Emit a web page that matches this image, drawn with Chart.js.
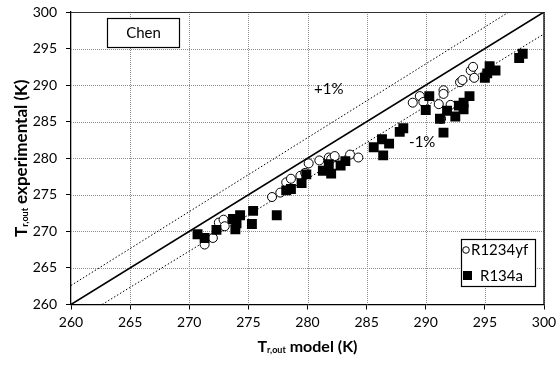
<!DOCTYPE html>
<html>
<head>
<meta charset="utf-8">
<script src="https://cdn.jsdelivr.net/npm/chart.js@4/dist/chart.umd.min.js"></script>
<style>
  html, body { margin: 0; padding: 0; background: #fff; overflow: hidden; }
  #wrap { width: 557px; height: 367px; position: relative; }
  canvas { display: block; }
</style>
</head>
<body>
<div id="wrap"><canvas id="c"></canvas></div>
<script>
// Axis range and tick spacing (K)
const axisMin = 260;
const axisMax = 300;
const tickStep = 5;

// R1234yf: model vs experimental outlet temperature (K)
const r1234yfModel = [271.3, 272.0, 272.5, 272.9, 273.0, 273.9, 277.0, 277.7, 278.2, 278.6, 279.4, 279.8, 280.1, 281.0, 281.8, 282.0, 282.3, 283.6, 284.3, 288.9, 289.5, 289.8, 291.1, 291.5, 291.5, 292.1, 291.3, 292.9, 293.1, 293.8, 294.0, 294.1];
const r1234yfExp   = [268.2, 269.1, 271.2, 271.6, 270.7, 271.5, 274.7, 275.3, 276.7, 277.2, 277.6, 278.0, 279.3, 279.7, 280.1, 279.9, 280.3, 280.5, 280.1, 287.6, 288.5, 287.7, 287.4, 289.3, 288.8, 287.3, 285.4, 290.4, 290.7, 292.0, 292.5, 291.0];

// R134a: model vs experimental outlet temperature (K)
const r134aModel = [270.7, 271.3, 272.3, 273.7, 273.9, 274.3, 274.0, 275.4, 275.3, 277.4, 278.2, 278.6, 279.5, 279.9, 281.3, 281.8, 282.0, 282.8, 283.2, 285.6, 286.3, 286.4, 286.9, 287.8, 288.1, 290.3, 290.0, 291.2, 291.5, 291.8, 292.5, 292.8, 293.2, 293.2, 293.7, 295.0, 295.4, 295.2, 295.9, 297.9, 298.2];
const r134aExp   = [269.6, 269.1, 270.2, 271.7, 270.3, 272.2, 271.1, 272.8, 271.0, 272.2, 275.6, 275.8, 276.6, 277.8, 278.3, 279.2, 277.9, 279.0, 279.6, 281.5, 282.6, 280.4, 282.0, 283.6, 284.1, 288.5, 286.6, 285.4, 283.5, 286.5, 285.7, 287.2, 287.6, 286.7, 288.5, 291.0, 292.6, 291.6, 292.0, 293.7, 294.3];

// Reference lines: perfect agreement and +/-1 % bands (endpoints)
const idealX = [260, 300];
const idealY = [260, 300];
const plusX  = [260, 297.03];
const plusY  = [262.6, 300];
const minusX = [262.63, 300];
const minusY = [260, 297];

// Text annotations and their anchor values
const seriesNames = ['R1234yf', 'R134a'];
const plusLabel = '+1%';
const plusLabelAt = [281.8, 289.4];
const minusLabel = '-1%';
const minusLabelAt = [289.7, 282.2];
const modelName = 'Chen';

const zip = (xs, ys) => xs.map((x, i) => ({ x: x, y: ys[i] }));

const FONT = 'Lato, "Open Sans", sans-serif';

// Draws a line of text with a subscript part, centred on (cx, cy)
function drawRich(ctx, parts, cx, cy) {
  let w = 0;
  parts.forEach(p => { ctx.font = p.font; w += ctx.measureText(p.text).width; });
  let x = cx - w / 2;
  parts.forEach(p => {
    ctx.font = p.font;
    ctx.fillText(p.text, x, cy + (p.dy || 0));
    x += ctx.measureText(p.text).width;
  });
}

const decorations = {
  id: 'decorations',
  beforeDatasetsDraw(chart) {
    // dotted grid inside the plot area
    const { ctx, chartArea: a, scales: { x, y } } = chart;
    ctx.save();
    ctx.strokeStyle = '#8c8c8c';
    ctx.lineWidth = 1;
    ctx.setLineDash([1, 1]);
    x.ticks.forEach(t => {
      const px = Math.round(x.getPixelForValue(t.value)) + 0.5;
      if (t.value === axisMin) return;
      ctx.beginPath(); ctx.moveTo(px, a.top); ctx.lineTo(px, a.bottom); ctx.stroke();
    });
    y.ticks.forEach(t => {
      const py = Math.round(y.getPixelForValue(t.value)) + 0.5;
      if (t.value === axisMin) return;
      ctx.beginPath(); ctx.moveTo(a.left, py); ctx.lineTo(a.right, py); ctx.stroke();
    });
    ctx.restore();
  },
  afterDatasetsDraw(chart) {
    const { ctx, chartArea: a, scales: { x, y } } = chart;
    ctx.save();
    // plot frame on top and right
    ctx.strokeStyle = '#333';
    ctx.lineWidth = 1;
    ctx.beginPath();
    ctx.moveTo(a.left, Math.round(a.top) + 0.5);
    ctx.lineTo(a.right, Math.round(a.top) + 0.5);
    ctx.stroke();
    ctx.strokeStyle = '#000';
    ctx.lineWidth = 1.3;
    ctx.beginPath();
    ctx.moveTo(a.right, a.top);
    ctx.lineTo(a.right, a.bottom);
    ctx.stroke();

    // band labels
    ctx.fillStyle = '#000';
    ctx.textAlign = 'center';
    ctx.textBaseline = 'middle';
    ctx.font = '15px ' + FONT;
    ctx.fillText(plusLabel, x.getPixelForValue(plusLabelAt[0]), y.getPixelForValue(plusLabelAt[1]));
    ctx.fillText(minusLabel, x.getPixelForValue(minusLabelAt[0]), y.getPixelForValue(minusLabelAt[1]));

    // model name box
    const bx = Math.round(a.left) + 36, by = Math.round(a.top) + 6, bw = 72, bh = 29;
    ctx.fillStyle = '#fff';
    ctx.fillRect(bx, by, bw, bh);
    ctx.strokeStyle = '#000';
    ctx.lineWidth = 1.2;
    ctx.strokeRect(bx + 0.5, by + 0.5, bw, bh);
    ctx.fillStyle = '#000';
    ctx.font = '15px ' + FONT;
    ctx.fillText(modelName, bx + bw / 2 + 0.5, by + bh / 2 + 1);

    // legend box
    const lx = Math.round(a.right) - 83, ly = Math.round(a.bottom) - 66, lw = 74, lh = 47;
    ctx.fillStyle = '#fff';
    ctx.fillRect(lx, ly, lw, lh);
    ctx.lineWidth = 1.2;
    ctx.strokeRect(lx + 0.5, ly + 0.5, lw, lh);
    ctx.textAlign = 'left';
    ctx.font = '15px ' + FONT;
    // circle marker
    ctx.beginPath();
    ctx.arc(lx + 5, ly + 11, 3.3, 0, Math.PI * 2);
    ctx.fillStyle = '#fff';
    ctx.fill();
    ctx.lineWidth = 1;
    ctx.stroke();
    ctx.fillStyle = '#000';
    ctx.fillText(seriesNames[0], lx + 10, ly + 11);
    // square marker
    ctx.fillRect(lx + 2, ly + 32, 9, 9);
    ctx.fillText(seriesNames[1], lx + 19, ly + 37);

    ctx.restore();
  },
  afterDraw(chart) {
    const { ctx, chartArea: a } = chart;
    ctx.save();
    ctx.fillStyle = '#000';
    ctx.textAlign = 'left';
    ctx.textBaseline = 'alphabetic';
    // x axis title
    drawRich(ctx, [
      { text: 'T', font: 'bold 16px ' + FONT },
      { text: 'r,out', font: 'bold 9px ' + FONT, dy: 1 },
      { text: ' model (K)', font: 'bold 16px ' + FONT }
    ], (a.left + a.right) / 2, 352);
    // y axis title (rotated)
    ctx.translate(27, (a.top + a.bottom) / 2);
    ctx.rotate(-Math.PI / 2);
    drawRich(ctx, [
      { text: 'T', font: 'bold 17px ' + FONT },
      { text: 'r,out', font: 'bold 9px ' + FONT, dy: 1 },
      { text: ' experimental (K)', font: 'bold 17px ' + FONT }
    ], 0, 0);
    ctx.restore();
  }
};

Chart.defaults.font.family = FONT;
Chart.defaults.color = '#000';

const axis = (pos) => ({
  type: 'linear',
  position: pos,
  min: axisMin,
  max: axisMax,
  ticks: { stepSize: tickStep, font: { size: 14 }, padding: pos === 'left' ? 9 : 5, color: '#000' },
  grid: {
    drawOnChartArea: false,
    drawTicks: true,
    tickLength: 5,
    tickColor: '#000',
    tickBorderDash: [],
    tickWidth: 1
  },
  border: { display: true, color: '#000', width: 1.3 },
  afterFit(scale) {
    // fixed axis band sizes; label overflow is handled by layout padding
    if (pos === 'left') scale.width = 71;
    else scale.height = 62.5;
    scale.paddingTop = 0;
    scale.paddingBottom = 0;
    scale.paddingLeft = 0;
    scale.paddingRight = 0;
  }
});

new Chart(document.getElementById('c'), {
  type: 'scatter',
  data: {
    datasets: [
      {
        label: seriesNames[1],
        data: zip(r134aModel, r134aExp),
        pointStyle: 'rect',
        pointRadius: 7,
        backgroundColor: '#000',
        borderColor: '#000',
        borderWidth: 0,
        order: 0
      },
      {
        label: seriesNames[0],
        data: zip(r1234yfModel, r1234yfExp),
        pointStyle: 'circle',
        pointRadius: 4.5,
        backgroundColor: '#fff',
        borderColor: '#000',
        borderWidth: 1,
        order: 1
      },
      {
        type: 'line',
        data: zip(idealX, idealY),
        borderColor: '#000',
        borderWidth: 1.6,
        pointRadius: 0,
        fill: false,
        order: 2
      },
      {
        type: 'line',
        data: zip(plusX, plusY),
        borderColor: '#000',
        borderWidth: 1,
        borderDash: [1.5, 2],
        pointRadius: 0,
        fill: false,
        order: 3
      },
      {
        type: 'line',
        data: zip(minusX, minusY),
        borderColor: '#000',
        borderWidth: 1,
        borderDash: [1.5, 2],
        pointRadius: 0,
        fill: false,
        order: 4
      }
    ]
  },
  options: {
    responsive: true,
    maintainAspectRatio: false,
    animation: false,
    layout: { padding: { top: 12, right: 13, left: 0, bottom: 0 } },
    plugins: { legend: { display: false }, tooltip: { enabled: false } },
    scales: { x: axis('bottom'), y: axis('left') }
  },
  plugins: [decorations]
});
</script>
</body>
</html>
